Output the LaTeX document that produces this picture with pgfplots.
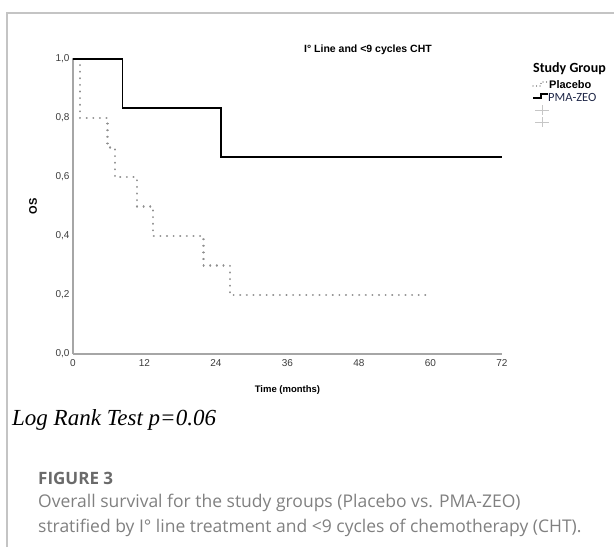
\documentclass[border=0pt]{standalone}
\usepackage{fontspec}
\setmainfont{Liberation Sans}
\newfontfamily\seriffont{Liberation Serif}
\newfontfamily\calibfont{Carlito}
\newfontfamily\osfont{Open Sans}
\usepackage{pgfplots}
\pgfplotsset{compat=1.18}
\definecolor{axgray}{HTML}{A6A6A6}
\definecolor{bordergray}{HTML}{C4C4C4}
\definecolor{ticktext}{HTML}{3C3C3C}
\definecolor{dotgray}{HTML}{8E8E8E}
\definecolor{capgray}{HTML}{6A6A6A}
\definecolor{navy}{HTML}{202848}
\begin{document}
\begin{tikzpicture}[x=1pt,y=1pt]
\useasboundingbox (0,0) rectangle (614,547);
\draw[bordergray, line width=1.2pt] (7,0) -- (7,534) -- (614,534);
\begin{axis}[
  at={(73pt,193pt)}, anchor=south west,
  scale only axis, width=429pt, height=295pt,
  xmin=0, xmax=72, ymin=0, ymax=1,
  axis x line*=bottom, axis y line*=left,
  axis line style={axgray, line width=1.3pt, -},
  xtick={0,12,24,36,48,60,72},
  ytick={0,0.2,0.4,0.6,0.8,1},
  major tick length=0pt,
  /pgf/number format/assume math mode=true,
  tick label style={font=\fontsize{10}{12}\selectfont, text=ticktext},
  yticklabel style={/pgf/number format/.cd, use comma, fixed, fixed zerofill, precision=1},
  xticklabel style={yshift=-2pt},
  xlabel={Time (months)}, ylabel={OS},
  every axis x label/.style={at={(rel axis cs:0.5,0)}, yshift=-36pt, anchor=center, font=\bfseries\fontsize{9.5}{11}\selectfont},
  every axis y label/.style={at={(rel axis cs:0,0.5)}, xshift=-40pt, rotate=90, anchor=center, font=\bfseries\fontsize{11}{13}\selectfont},
  clip=false,
]
\addplot[dotgray, line width=2.2pt, line cap=round, dash pattern=on 0.01pt off 6.6pt] coordinates {
 (0,1) (1.2,1) (1.2,0.8) (5.8,0.8) (5.8,0.7) (7.0,0.7) (7.0,0.6) (10.7,0.6) (10.7,0.5)
 (13.4,0.5) (13.4,0.4) (21.9,0.4) (21.9,0.3) (26.3,0.3) (26.3,0.2) (60,0.2)
};
\addplot[black, line width=1.8pt] coordinates {
 (0,1) (8.3,1) (8.3,0.8333) (24.8,0.8333) (24.8,0.6667) (72,0.6667)
};
\end{axis}
% title
\node[font=\bfseries\fontsize{10.5}{12}\selectfont] at (368,497) {I\textdegree{} Line and <9 cycles CHT};
% legend
\node[anchor=west, inner sep=0, font=\calibfont\bfseries\fontsize{14}{16}\selectfont] at (533,478) {Study Group};
\draw[dotgray, line width=1.3pt, line cap=round, dash pattern=on 0.01pt off 3.5pt] (533,461) -- (541,461) -- (541,465) -- (548,465);
\node[anchor=west, inner sep=0, font=\bfseries\fontsize{11}{13}\selectfont] at (549,462) {Placebo};
\draw[black, line width=1.2pt] (533,449) -- (541,449) -- (541,453) -- (548,453);
\node[anchor=west, inner sep=0, text=navy, font=\calibfont\fontsize{12.5}{14}\selectfont] at (548,450) {PMA-ZEO};
\draw[gray!45, line width=0.6pt] (535,437) -- (549,437) (542,432) -- (542,442);
\draw[gray!45, line width=0.6pt] (535,425) -- (549,425) (542,420) -- (542,430);
% log rank
\node[anchor=base west, inner sep=0, font=\seriffont\itshape\fontsize{23}{26}\selectfont] at (12,121) {Log Rank Test p=0.06};
% caption
\node[anchor=base west, inner sep=0, text=capgray, font=\osfont\bfseries\fontsize{17}{19}\selectfont] at (38,63) {FIGURE 3};
\node[anchor=base west, inner sep=0, text=capgray!85, font=\osfont\fontsize{17.5}{20}\selectfont] at (38,39) {Overall survival for the study groups (Placebo vs. PMA-ZEO)};
\node[anchor=base west, inner sep=0, text=capgray!85, font=\osfont\fontsize{17.5}{20}\selectfont] at (38,14) {stratified by I\textdegree{} line treatment and <9 cycles of chemotherapy (CHT).};
\end{tikzpicture}
\end{document}
